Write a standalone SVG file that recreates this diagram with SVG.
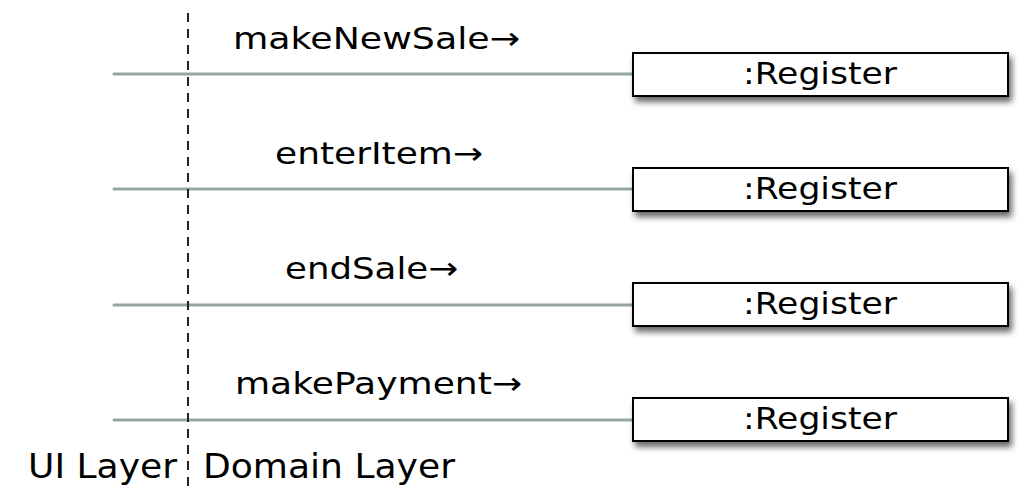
<svg xmlns="http://www.w3.org/2000/svg" width="1020" height="493" viewBox="0 0 1020 493">
<style>
text{font-family:"DejaVu Sans",sans-serif;font-size:31px;fill:#000}
.lbl{text-anchor:middle}
.reg{font-size:30px}
.layer{font-size:33px}
.box{fill:#fff;stroke:#000;stroke-width:2;filter:url(#sh)}
.msg{stroke:#95a5a6;stroke-width:3;stroke-linecap:round;fill:none}
.div{stroke:#222;stroke-width:2;stroke-dasharray:9 7;fill:none}
</style>
<defs>
<filter id="sh" x="-10%" y="-30%" width="120%" height="180%">
<feGaussianBlur in="SourceAlpha" stdDeviation="3"/>
<feOffset dx="3" dy="5" result="b"/>
<feComponentTransfer><feFuncA type="linear" slope="0.6"/></feComponentTransfer>
<feMerge><feMergeNode/><feMergeNode in="SourceGraphic"/></feMerge>
</filter>
</defs>
<g id="connectors">
<line class="msg" x1="114" y1="74" x2="633" y2="74"/>
<line class="msg" x1="114" y1="189" x2="633" y2="189"/>
<line class="msg" x1="114" y1="305" x2="633" y2="305"/>
<line class="msg" x1="114" y1="420" x2="633" y2="420"/>
<line class="div" x1="188" y1="13" x2="188" y2="493"/>
</g>
<g id="labels">
<text class="lbl" x="376.5" y="49" textLength="287" lengthAdjust="spacingAndGlyphs">makeNewSale→</text>
<text class="lbl" x="379" y="164" textLength="208" lengthAdjust="spacingAndGlyphs">enterItem→</text>
<text class="lbl" x="371.5" y="279" textLength="173" lengthAdjust="spacingAndGlyphs">endSale→</text>
<text class="lbl" x="378.5" y="394" textLength="287" lengthAdjust="spacingAndGlyphs">makePayment→</text>
<text class="layer" x="28" y="478" textLength="149" lengthAdjust="spacingAndGlyphs">UI Layer</text>
<text class="layer" x="203" y="478" textLength="252" lengthAdjust="spacingAndGlyphs">Domain Layer</text>
</g>
<g id="reg1"><rect class="box" x="633" y="53" width="375" height="43"/><text class="lbl reg" x="820" y="84" textLength="154" lengthAdjust="spacingAndGlyphs">:Register</text></g>
<g id="reg2"><rect class="box" x="633" y="168" width="375" height="43"/><text class="lbl reg" x="820" y="199" textLength="154" lengthAdjust="spacingAndGlyphs">:Register</text></g>
<g id="reg3"><rect class="box" x="633" y="283" width="375" height="43"/><text class="lbl reg" x="820" y="314" textLength="154" lengthAdjust="spacingAndGlyphs">:Register</text></g>
<g id="reg4"><rect class="box" x="633" y="398" width="375" height="43"/><text class="lbl reg" x="820" y="429" textLength="154" lengthAdjust="spacingAndGlyphs">:Register</text></g>
</svg>
